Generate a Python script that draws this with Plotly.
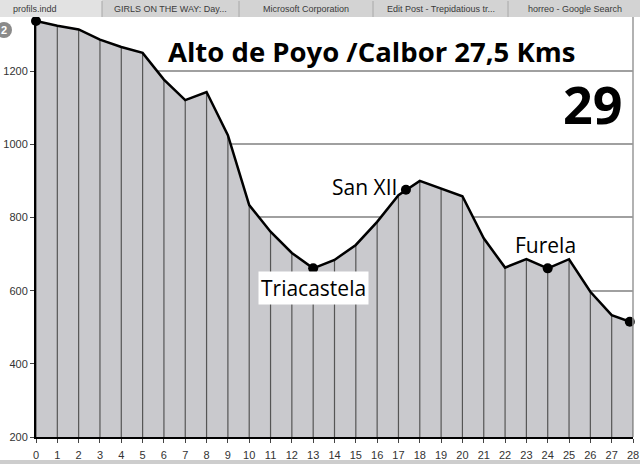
import plotly.graph_objects as go

# ---- data ----
km = list(range(0, 29))
elevation = [1337, 1324, 1314, 1286, 1266, 1250, 1177, 1121, 1143, 1025,
             834, 761, 703, 661, 684, 725, 788, 861, 900, 879,
             858, 743, 663, 686, 661, 686, 597, 533, 512]
x_ticks = list(range(0, 29))
y_ticks = [200, 400, 600, 800, 1000, 1200]

place_km = [0, 13, 17.35, 24, 27.85]
place_elev = [1337, 661, 876, 661, 515]

labels = [
    {"text": "Triacastela", "km": 13.02, "elev": 606, "anchor": "center", "box": True},
    {"text": "San XII", "km": 17.05, "elev": 883, "anchor": "right", "box": False},
    {"text": "Furela", "km": 23.9, "elev": 724, "anchor": "center", "box": False},
]
title_text = "Alto de Poyo /Calbor 27,5 Kms"
stage_number = "29"
tabs = ["profils.indd", "GIRLS ON THE WAY: Day...", "Microsoft Corporation",
        "Edit Post - Trepidatious tr...", "horreo - Google Search"]

# ---- layout geometry (pixels) ----
W, H = 640, 464
ML, MR, MT, MB = 36, 7, 17, 27
PW, PH = W - ML - MR, H - MT - MB


def px(xp):
    return (xp - ML) / PW


def py(yp):
    return (H - MB - yp) / PH


fig = go.Figure()

# filled profile
fig.add_trace(go.Scatter(x=km, y=elevation, mode="lines", fill="tozeroy",
                         fillcolor="#c9c9cd", line=dict(width=0, color="#c9c9cd"),
                         hoverinfo="skip", showlegend=False))

# vertical km lines
vx, vy = [], []
for k, e in zip(km, elevation):
    vx += [k, k, None]
    vy += [200, e, None]
fig.add_trace(go.Scatter(x=vx, y=vy, mode="lines", line=dict(color="#555555", width=1.2),
                         hoverinfo="skip", showlegend=False))

# profile line
fig.add_trace(go.Scatter(x=km, y=elevation, mode="lines", line=dict(color="black", width=2.5),
                         showlegend=False))

# place markers
fig.add_trace(go.Scatter(x=place_km, y=place_elev, mode="markers",
                         marker=dict(color="black", size=10), showlegend=False, cliponaxis=False))

annotations = []
for lb in labels:
    annotations.append(dict(x=lb["km"], y=lb["elev"], xref="x", yref="y", text=lb["text"],
                            showarrow=False, xanchor=lb["anchor"], yanchor="middle",
                            font=dict(family="Open Sans", size=21, color="black"),
                            bgcolor="white" if lb["box"] else None, borderpad=2))

annotations.append(dict(x=px(166), y=py(51), xref="paper", yref="paper", text="<b>" + title_text + "</b>",
                        showarrow=False, xanchor="left", yanchor="middle",
                        font=dict(family="Open Sans", size=27.5, color="black")))
annotations.append(dict(x=px(624), y=py(103), xref="paper", yref="paper", text="<b>" + stage_number + "</b>",
                        showarrow=False, xanchor="right", yanchor="middle",
                        font=dict(family="Open Sans", size=52, color="black")))

shapes = []
# browser tab bar
shapes.append(dict(type="rect", xref="paper", yref="paper", x0=px(0), x1=px(640), y0=py(17), y1=py(0),
                   fillcolor="#d3d3d3", line=dict(width=0), layer="above"))
shapes.append(dict(type="rect", xref="paper", yref="paper", x0=px(0), x1=px(102), y0=py(17), y1=py(0),
                   fillcolor="#e2e2e2", line=dict(width=0), layer="above"))
for sx in [102, 239, 373, 508]:
    shapes.append(dict(type="line", xref="paper", yref="paper", x0=px(sx), x1=px(sx), y0=py(17), y1=py(1),
                       line=dict(color="#a8a8a8", width=1), layer="above"))
tab_centers = [35, 170, 306, 441, 575]
for t, c in zip(tabs, tab_centers):
    annotations.append(dict(x=px(c), y=py(8.5), xref="paper", yref="paper", text=t, showarrow=False,
                            xanchor="center", yanchor="middle",
                            font=dict(family="Liberation Sans", size=9, color="#3a3a3a")))
# bottom strip
shapes.append(dict(type="rect", xref="paper", yref="paper", x0=px(0), x1=px(640), y0=py(464), y1=py(460),
                   fillcolor="#cdcdcd", line=dict(width=0), layer="above"))
# right frame
shapes.append(dict(type="line", xref="paper", yref="paper", x0=1, x1=1, y0=0, y1=1,
                   line=dict(color="#999999", width=1.5), layer="above"))
# badge
shapes.append(dict(type="circle", xref="paper", yref="paper", x0=px(-4), x1=px(12), y0=py(38), y1=py(22),
                   fillcolor="#8a8a8a", line=dict(width=0), layer="above"))
annotations.append(dict(x=px(4), y=py(30), xref="paper", yref="paper", text="<b>2</b>", showarrow=False,
                        xanchor="center", yanchor="middle",
                        font=dict(family="Liberation Sans", size=11, color="white")))

fig.update_layout(
    template="none",
    width=W, height=H,
    margin=dict(l=ML, r=MR, t=MT, b=MB, autoexpand=False),
    paper_bgcolor="white", plot_bgcolor="white",
    showlegend=False,
    annotations=annotations,
    shapes=shapes,
    xaxis=dict(range=[0, 28], tickvals=x_ticks, ticktext=[str(v) for v in x_ticks],
               automargin=False,
               showgrid=False, zeroline=False, showline=True, linecolor="black", linewidth=2,
               ticks="outside", ticklen=4, tickcolor="#444", ticklabelstandoff=3,
               tickfont=dict(family="Liberation Sans", size=11, color="#333")),
    yaxis=dict(range=[200, 1348], tickvals=y_ticks, ticktext=[str(v) for v in y_ticks],
               automargin=False,
               showgrid=True, gridcolor="#a0a0a0", gridwidth=1.5, zeroline=False,
               showline=True, linecolor="black", linewidth=2,
               ticks="outside", ticklen=4, tickcolor="#444",
               tickfont=dict(family="Liberation Sans", size=11, color="#333")),
)

fig.write_html("out.html", config={"displayModeBar": False},
               post_script="document.body.style.margin='0';document.body.style.overflow='hidden';")
